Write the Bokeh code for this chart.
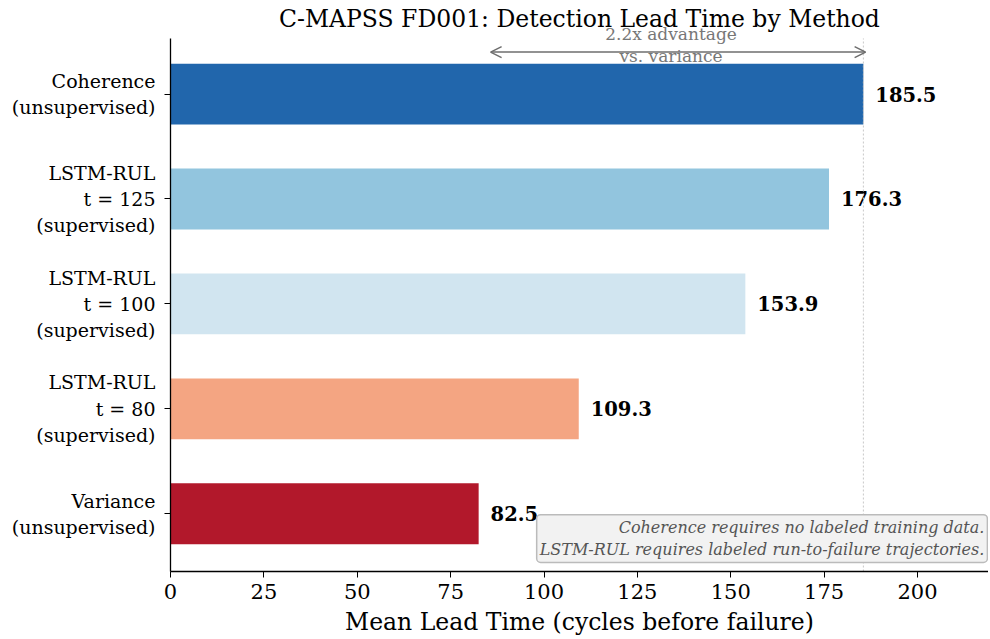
from bokeh.plotting import figure
from bokeh.models import ColumnDataSource, Arrow, OpenHead, Label, Range1d, FixedTicker
from bokeh.core.properties import value
from bokeh.embed import file_html
from bokeh.resources import INLINE

methods = ["Coherence\n(unsupervised)", "LSTM-RUL\nt = 125\n(supervised)", "LSTM-RUL\nt = 100\n(supervised)",
           "LSTM-RUL\nt = 80\n(supervised)", "Variance\n(unsupervised)"]
lead_times = [185.5, 176.3, 153.9, 109.3, 82.5]
colors = ["#2166ac", "#92c5de", "#d1e5f0", "#f4a582", "#b2182b"]
x_ticks = [0, 25, 50, 75, 100, 125, 150, 175, 200]
title = "C-MAPSS FD001: Detection Lead Time by Method"
advantage = "2.2x advantage\nvs. variance"
note = "Coherence requires no labeled training data.\nLSTM-RUL requires labeled run-to-failure trajectories."

SERIF = "DejaVu Serif"
X_MAX = 219
Y_LO, Y_HI = -0.55, 4.53
Y_TOP = 4.8916

n = len(methods)
ypos = [n - 1 - i for i in range(n)]
src = ColumnDataSource(dict(y=ypos, v=lead_times, c=colors,
                            lab=[f"{v:.1f}" for v in lead_times],
                            lx=[v + 3.2 for v in lead_times]))

p = figure(width=988, height=638, output_backend="svg", toolbar_location=None,
           x_range=Range1d(0, X_MAX), y_range=Range1d(Y_LO, Y_TOP),
           min_border_left=170, min_border_right=0, min_border_top=0, min_border_bottom=66)
p.outline_line_color = None
p.grid.visible = False

p.hbar(y="y", right="v", left=0, height=0.58, fill_color="c", line_color=None, source=src)
p.text(x="lx", y="y", text="lab", source=src, text_font=value(SERIF), text_font_style="bold",
       text_font_size="19.5px", text_baseline="middle", text_align="left", text_color="black")

top_v = lead_times[0]
low_v = lead_times[-1]
p.segment(x0=[top_v], y0=[Y_LO], x1=[top_v], y1=[Y_HI], line_color="#c8c8c8",
          line_dash="2 2", line_width=1)

# title drawn inside the (extended) frame so the annotation above the axes is not clipped
p.add_layout(Label(x=X_MAX / 2, y=Y_HI + 0.19, text=title, text_align="center",
                   text_baseline="middle", text_font=SERIF, text_font_size="23.5px",
                   text_color="black"))

ay = ypos[0] + 0.4
p.add_layout(Arrow(start=OpenHead(size=11, line_color="#6e6e6e", line_width=1.5),
                   end=OpenHead(size=11, line_color="#6e6e6e", line_width=1.5),
                   x_start=low_v + 3.2, y_start=ay, x_end=top_v + 0.6, y_end=ay,
                   line_color="#6e6e6e", line_width=1.5))
p.add_layout(Label(x=(low_v + top_v) / 2, y=ay + 0.07, text=advantage, text_align="center",
                   text_baseline="middle", text_font=SERIF, text_font_size="17px",
                   text_color="#777777", text_line_height=1.12))

p.add_layout(Label(x=X_MAX - 0.3, y=Y_LO + 0.086, text=note,
                   text_align="right", text_baseline="bottom", text_font=SERIF,
                   text_font_style="italic", text_font_size="16px", text_color="#555555",
                   background_fill_color="#f2f2f2", border_line_color="#bbbbbb",
                   border_line_width=1.5, padding=3, border_radius=4, text_line_height=1.2))

p.xaxis.ticker = FixedTicker(ticks=x_ticks)
p.xaxis.axis_label = "Mean Lead Time (cycles before failure)"
p.xaxis.axis_label_text_font = SERIF
p.xaxis.axis_label_text_font_style = "normal"
p.xaxis.axis_label_text_font_size = "23.5px"
p.xaxis.axis_label_text_color = "black"
p.xaxis.axis_label_standoff = 6
p.xaxis.major_label_text_font = SERIF
p.xaxis.major_label_text_font_size = "21px"
p.xaxis.major_label_text_color = "black"
p.xaxis.major_label_standoff = 6
p.xaxis.minor_tick_line_color = None
p.xaxis.major_tick_out = 6
p.xaxis.major_tick_in = 0
p.xaxis.major_tick_line_color = "black"
p.xaxis.axis_line_color = "black"
p.xaxis.axis_line_width = 1.3

p.yaxis.ticker = FixedTicker(ticks=ypos)
p.yaxis.bounds = (Y_LO, Y_HI)
p.yaxis.major_label_overrides = {ypos[i]: methods[i] for i in range(n)}
p.yaxis.major_label_text_font = SERIF
p.yaxis.major_label_text_font_size = "19px"
p.yaxis.major_label_text_color = "black"
p.yaxis.major_label_text_align = "right"
p.yaxis.major_label_standoff = 9
p.yaxis.minor_tick_line_color = None
p.yaxis.major_tick_out = 6
p.yaxis.major_tick_in = 0
p.yaxis.major_tick_line_color = "black"
p.yaxis.axis_line_color = "black"
p.yaxis.axis_line_width = 1.3

open("out.html", "w").write(file_html(p, INLINE))
